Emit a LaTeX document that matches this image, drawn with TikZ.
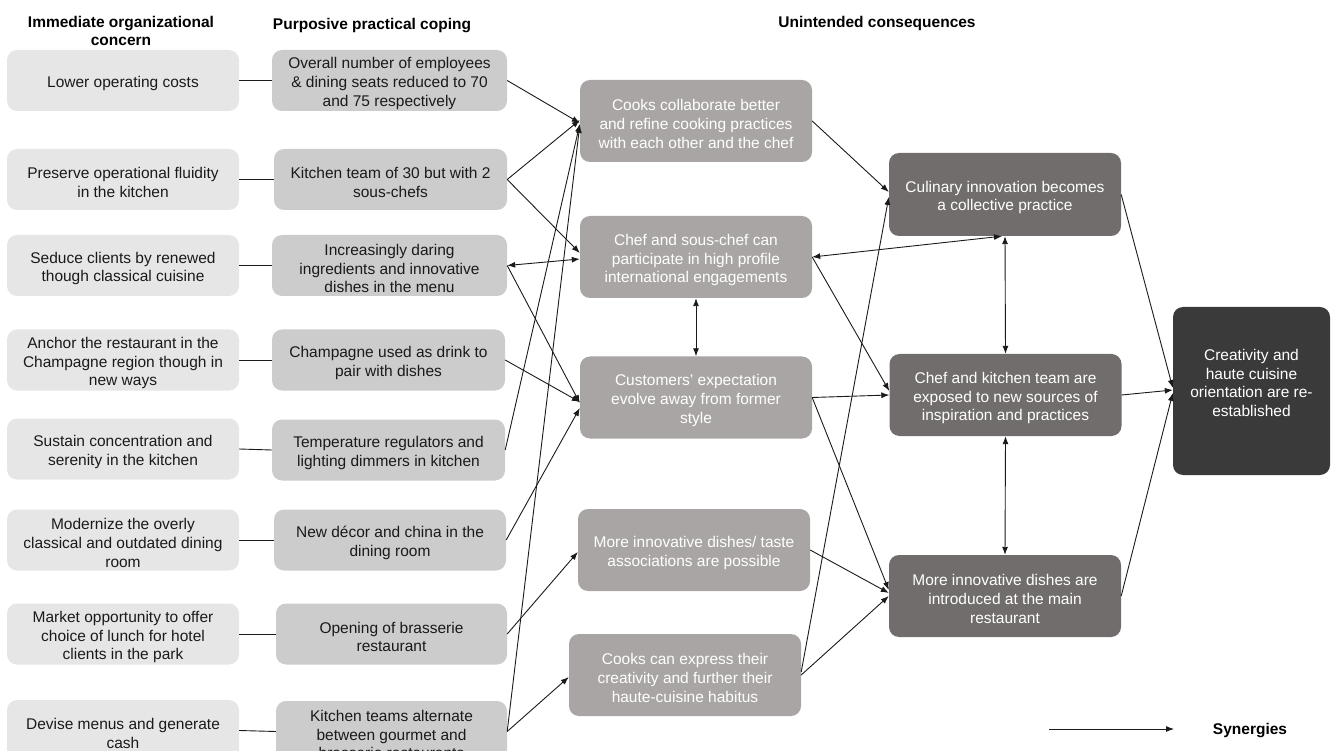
\documentclass[tikz,border=0pt]{standalone}
\usepackage{fontspec}
\setmainfont{Liberation Sans}
\usetikzlibrary{arrows.meta}
\definecolor{cone}{HTML}{E6E6E6}
\definecolor{ctwo}{HTML}{CCCCCC}
\definecolor{cthree}{HTML}{A9A5A4}
\definecolor{cfour}{HTML}{716D6C}
\definecolor{cfive}{HTML}{3A3A3A}
\definecolor{ink}{HTML}{1A1A1A}
\tikzset{
  txt/.style={font=\fontsize{15.5pt}{18.7pt}\selectfont, align=center, inner sep=0pt},
  darktxt/.style={txt, text=ink},
  lighttxt/.style={txt, text=white},
  boxbase/.style={rounded corners=10pt, inner sep=0pt, minimum width=232pt, minimum height=61pt},
  boxone/.style={boxbase, fill=cone},
  boxtwo/.style={boxbase, fill=ctwo, minimum width=235pt},
  boxthree/.style={boxbase, fill=cthree, minimum height=82pt},
  boxfour/.style={boxbase, fill=cfour, minimum height=83pt},
  boxfive/.style={boxbase, fill=cfive, minimum width=157pt, minimum height=168pt},
  head/.style={font=\fontsize{15.5pt}{18.7pt}\selectfont\bfseries, align=center, text=black},
  conn/.style={line width=0.9pt, draw=ink},
  arr/.style={conn, -{Latex[length=8pt,width=6pt]}},
  darr/.style={conn, {Latex[length=8pt,width=6pt]}-{Latex[length=8pt,width=6pt]}},
}
% #1 box style, #2 name, #3 position, #4 text style, #5 text
\newcommand{\mkbox}[5]{%
  \node[#1] (#2) at (#3) {};
  \node[#4] (#2t) at ([yshift=-3pt]#2.center) {#5};}
\begin{document}
\begin{tikzpicture}[x=1pt,y=-1pt]
\useasboundingbox (0,0) rectangle (1331,751);
\clip (0,0) rectangle (1331,751);

% headers
\node[head] (h1) at (121,31) {Immediate organizational\\concern};
\node[head] (h2) at (372,26) {Purposive practical coping};
\node[head] (h3) at (877,23) {Unintended consequences};

% column 1
\mkbox{boxone}{a1}{123,80.5}{darktxt}{Lower operating costs}
\mkbox{boxone}{a2}{123,179.5}{darktxt}{Preserve operational fluidity\\in the kitchen}
\mkbox{boxone}{a3}{123,265.5}{darktxt}{Seduce clients by renewed\\though classical cuisine}
\mkbox{boxone}{a4}{123,360}{darktxt}{Anchor the restaurant in the\\Champagne region though in\\new ways}
\mkbox{boxone}{a5}{123,449}{darktxt}{Sustain concentration and\\serenity in the kitchen}
\mkbox{boxone}{a6}{123,540}{darktxt}{Modernize the overly\\classical and outdated dining\\room}
\mkbox{boxone}{a7}{123,634}{darktxt}{Market opportunity to offer\\choice of lunch for hotel\\clients in the park}
\mkbox{boxone}{a8}{123,730.5}{darktxt}{Devise menus and generate\\cash}

% column 2
\mkbox{boxtwo}{b1}{389.5,80.5}{darktxt}{Overall number of employees\\\& dining seats reduced to 70\\and 75 respectively}
\mkbox{boxtwo, minimum width=233pt}{b2}{390.5,179.5}{darktxt}{Kitchen team of 30 but with 2\\sous-chefs}
\mkbox{boxtwo}{b3}{389.5,265.5}{darktxt}{Increasingly daring\\ingredients and innovative\\dishes in the menu}
\mkbox{boxtwo, minimum width=233pt}{b4}{388.5,360}{darktxt}{Champagne used as drink to\\pair with dishes}
\mkbox{boxtwo, minimum width=233pt}{b5}{388.5,450}{darktxt}{Temperature regulators and\\lighting dimmers in kitchen}
\mkbox{boxtwo, minimum width=232pt}{b6}{390,540}{darktxt}{New décor and china in the\\dining room}
\mkbox{boxtwo, minimum width=231pt}{b7}{391.5,634}{darktxt}{Opening of brasserie\\restaurant}
\mkbox{boxtwo, minimum width=231pt}{b8}{391.5,731.5}{darktxt}{Kitchen teams alternate\\between gourmet and\\brasserie restaurants}

% column 3
\mkbox{boxthree}{c1}{696,121}{lighttxt}{Cooks collaborate better\\and refine cooking practices\\with each other and the chef}
\mkbox{boxthree}{c2}{696,257}{lighttxt}{Chef and sous-chef can\\participate in high profile\\international engagements}
\mkbox{boxthree}{c3}{696,397.5}{lighttxt}{Customers' expectation\\evolve away from former\\style}
\mkbox{boxthree}{c4}{694,550}{lighttxt}{More innovative dishes/ taste\\associations are possible}
\mkbox{boxthree}{c5}{685,675}{lighttxt}{Cooks can express their\\creativity and further their\\haute-cuisine habitus}

% column 4
\mkbox{boxfour}{d1}{1005,194.5}{lighttxt}{Culinary innovation becomes\\a collective practice}
\mkbox{boxfour, minimum height=82pt}{d2}{1005.5,395}{lighttxt}{Chef and kitchen team are\\exposed to new sources of\\inspiration and practices}
\mkbox{boxfour, minimum height=82pt}{d3}{1005,596}{lighttxt}{More innovative dishes are\\introduced at the main\\restaurant}

% column 5
\node[boxfive] (e1) at (1251.5,391) {};
\node[lighttxt] (e1t) at ([yshift=8pt]e1.center) {Creativity and\\haute cuisine\\orientation are re-\\established};

% column 1 to column 2
\foreach \i in {1,...,8}{\draw[conn] (a\i.east) -- (b\i.west);}

% column 2 to column 3
\draw[arr] (b1.east) -- ([yshift=-2pt]c1.west);
\draw[arr] (b2.east) -- ([yshift=1pt]c1.west);
\draw[arr] (b2.east) -- ([yshift=4pt]c2.west);
\draw[darr] (b3.east) -- ([yshift=-2pt]c2.west);
\draw[arr] (b3.east) -- ([yshift=-5.5pt]c3.west);
\draw[arr] (b4.east) -- ([yshift=-4.5pt]c3.west);
\draw[arr] (b5.east) -- ([yshift=-3pt]c1.west);
\draw[arr] (b6.east) -- ([yshift=-10.5pt]c3.west);
\draw[arr] (b7.east) -- ([yshift=-2pt]c4.west);
\draw[arr] (b8.east) -- ([yshift=-2pt]c5.west);
\draw[arr] (b8.east) -- ([yshift=-4pt]c1.west);

% column 3 internal
\draw[darr] (c2.south) -- (c3.north);

% column 3 to column 4
\draw[arr] (c1.east) -- ([yshift=2.5pt]d1.west);
\draw[darr] (c2.east) -- ([xshift=-3pt]d1.south);
\draw[arr] (c2.east) -- ([yshift=4pt]d2.west);
\draw[arr] (c3.east) -- (d2.west);
\draw[arr] (c3.east) -- ([yshift=6pt]d3.west);
\draw[arr] (c4.east) -- ([yshift=3pt]d3.west);
\draw[arr] (c5.east) -- (d3.west);
\draw[arr] ([yshift=3pt]c5.east) -- ([yshift=-2.5pt]d1.west);

% column 4 internal
\draw[darr] (d1.south) -- (d2.north);
\draw[darr] (d2.south) -- (d3.north);

% column 4 to column 5
\draw[arr] (d1.east) -- ([yshift=3pt]e1.west);
\draw[arr] (d2.east) -- ([yshift=1pt]e1.west);
\draw[arr] (d3.east) -- ([yshift=-2pt]e1.west);

% legend
\coordinate (l1) at (1049,729);
\coordinate (l2) at (1174,729);
\draw[arr] (l1) -- (l2);
\node[head] (syn) at (1250,731) {Synergies};
\end{tikzpicture}
\end{document}
